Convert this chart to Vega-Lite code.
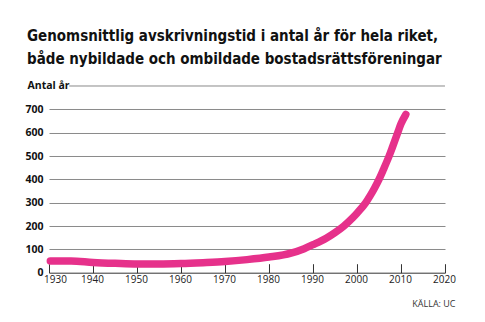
{
  "$schema": "https://vega.github.io/schema/vega-lite/v6.json",
  "autosize": "none",
  "width": 396,
  "height": 186.7,
  "padding": {"left": 49, "top": 86, "right": 40, "bottom": 49},
  "background": "white",
  "title": {
    "text": ["Genomsnittlig avskrivningstid i antal år för hela riket,", "både nybildade och ombildade bostadsrättsföreningar"],
    "font": "DejaVu Sans Condensed",
    "fontSize": 15,
    "fontWeight": "bold",
    "color": "#111",
    "anchor": "start",
    "frame": "group",
    "dx": -22,
    "lineHeight": 23,
    "offset": 14
  },
  "config": {"view": {"stroke": null}},
  "encoding": {
    "x": {
      "field": "year", "type": "quantitative",
      "scale": {"domain": [1930, 2020], "nice": false, "zero": false},
      "axis": {
        "values": [1930, 1940, 1950, 1960, 1970, 1980, 1990, 2000, 2010, 2020],
        "format": "d",
        "grid": false,
        "domain": true, "domainColor": "#333", "domainWidth": 1,
        "ticks": true, "tickSize": -9, "tickColor": "#333",
        "labelPadding": 11,
        "labelOverlap": false,
        "labelFont": "Open Sans", "labelFontSize": 10, "labelColor": "#222",
        "labelFlush": false,
        "labelOffset": {"condition": {"test": "datum.value == 1930", "value": 6}, "value": -1},
        "title": "KÄLLA: UC",
        "titleFont": "Open Sans", "titleFontSize": 9, "titleFontWeight": "normal", "titleColor": "#333",
        "titleAlign": "right", "titleBaseline": "alphabetic", "titleX": 406, "titleY": 34
      }
    },
    "y": {
      "field": "value", "type": "quantitative",
      "scale": {"domain": [0, 800], "nice": false},
      "axis": {
        "values": [0, 100, 200, 300, 400, 500, 600, 700, 800],
        "labelExpr": "datum.value == 800 ? 'Antal år' : datum.label",
        "labelOverlap": false,
        "grid": true, "gridColor": "#8a8a8a", "gridWidth": 1,
        "gridOpacity": {"condition": {"test": "datum.value == 800 || datum.value == 0", "value": 0}, "value": 1},
        "domain": false, "ticks": false,
        "labelPadding": {"condition": {"test": "datum.value == 800", "value": 22}, "value": 6},
        "labelFont": "Open Sans", "labelFontSize": 10.5, "labelFontWeight": "bold", "labelColor": "#111",
        "labelAlign": {"condition": {"test": "datum.value == 800", "value": "left"}, "value": "right"},
        "title": null
      }
    }
  },
  "layer": [
    {
      "data": {"values": [{"year": 1934.6, "year2": 2020, "value": 800}]},
      "mark": {"type": "rule", "color": "#8a8a8a", "strokeWidth": 1},
      "encoding": {
        "x2": {"field": "year2"}
      }
    },
    {
      "data": {"values": [
        {"year": 1930.3, "value": 50},
        {"year": 1935, "value": 50},
        {"year": 1940, "value": 44},
        {"year": 1945, "value": 40},
        {"year": 1950, "value": 37},
        {"year": 1955, "value": 37},
        {"year": 1960, "value": 39},
        {"year": 1965, "value": 43},
        {"year": 1970, "value": 48},
        {"year": 1975, "value": 56},
        {"year": 1980, "value": 67},
        {"year": 1985, "value": 84},
        {"year": 1988, "value": 103},
        {"year": 1990, "value": 120},
        {"year": 1993, "value": 148},
        {"year": 1995, "value": 172},
        {"year": 1997, "value": 200},
        {"year": 1999, "value": 235},
        {"year": 2000, "value": 255},
        {"year": 2002, "value": 300},
        {"year": 2003, "value": 330},
        {"year": 2004, "value": 363},
        {"year": 2005, "value": 400},
        {"year": 2006, "value": 442},
        {"year": 2007.3, "value": 500},
        {"year": 2008, "value": 535},
        {"year": 2009.25, "value": 600},
        {"year": 2010, "value": 638},
        {"year": 2011.1, "value": 678}
      ]},
      "mark": {"type": "line", "color": "#e6318b", "strokeWidth": 7.5, "strokeCap": "round", "strokeJoin": "round", "interpolate": "monotone"}
    }
  ]
}
